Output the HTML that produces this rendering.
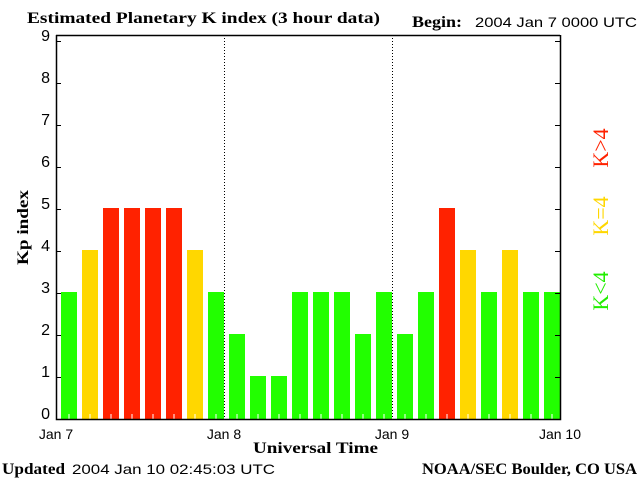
<!DOCTYPE html>
<html><head><meta charset="utf-8"><style>
body{margin:0;background:#fff}
svg{display:block}
text{font-family:"Liberation Sans",sans-serif;font-size:14px;fill:#000}
.s{font-family:"Liberation Serif",serif;font-weight:bold;font-size:16px}
</style></head><body>
<svg id="c" width="640" height="480">
<text class="s" x="27" y="23" textLength="353" lengthAdjust="spacingAndGlyphs">Estimated Planetary K index (3 hour data)</text>
<text class="s" x="412" y="27" textLength="50" lengthAdjust="spacingAndGlyphs">Begin:</text>
<text x="475" y="27" textLength="162" lengthAdjust="spacingAndGlyphs">2004 Jan 7 0000 UTC</text>
<text class="s" x="2" y="474" textLength="63" lengthAdjust="spacingAndGlyphs">Updated</text>
<text x="72" y="474" textLength="203" lengthAdjust="spacingAndGlyphs">2004 Jan 10 02:45:03 UTC</text>
<text class="s" x="422" y="474" textLength="215" lengthAdjust="spacingAndGlyphs">NOAA/SEC Boulder, CO USA</text>
<text class="s" x="253" y="453" textLength="125" lengthAdjust="spacingAndGlyphs">Universal Time</text>
<text class="s" transform="translate(28,265) rotate(-90)" textLength="75" lengthAdjust="spacingAndGlyphs">Kp index</text>
<g transform="translate(608,0) rotate(-90)">
<text x="-148" y="0" text-anchor="middle" style="fill:#ff2200;font-family:'Liberation Serif',serif;font-size:22px">K&gt;4</text>
<text x="-216" y="0" text-anchor="middle" style="fill:#ffd700;font-family:'Liberation Serif',serif;font-size:22px">K=4</text>
<text x="-291" y="0" text-anchor="middle" style="fill:#22ee00;font-family:'Liberation Serif',serif;font-size:22px">K&lt;4</text>
</g>
<g id="plot"></g>
</svg>
<script>
const kpValues=[3,4,5,5,5,5,4,3,2,1,1,3,3,3,2,3,2,3,5,4,3,4,3,3];
const yTicks=[0,1,2,3,4,5,6,7,8,9];
const dayLabels=["Jan 7","Jan 8","Jan 9","Jan 10"];
const NS="http://www.w3.org/2000/svg";
const L=56,R=560,T=35,B=419;
const xs=i=>L+i*(R-L)/kpValues.length;
const ys=v=>B-v*42;
const g=document.getElementById('plot');
function mk(t,a){const e=document.createElementNS(NS,t);for(const k in a)e.setAttribute(k,a[k]);g.appendChild(e);return e;}
kpValues.forEach((v,i)=>{
 const col=v>4?'#ff2200':v==4?'#ffd700':'#22ff00';
 const bw=(R-L)/kpValues.length;
 const r=mk('rect',{x:xs(i)+5,y:ys(v)-1,width:bw-5,height:B-ys(v)+1,fill:col});
 
 
 const t=mk('line',{x1:xs(i)+5+(bw-5)/2,x2:xs(i)+5+(bw-5)/2,y1:B-5,y2:B,stroke:'#fff'});
 
 
});
dayLabels.forEach((d,i)=>{
 const x=L+i*(R-L)/3;
 if(i>0&&i<3){const l=mk('line',{x1:x+.5,x2:x+.5,y1:T,y2:B,stroke:'#000','stroke-dasharray':'1,2'});
 
 }
 const t=mk('text',{x:x,y:439,'text-anchor':'middle'});t.textContent=d;
 
 
});
yTicks.forEach(v=>{
 const y=ys(v);
 const t=mk('text',{x:50,y:y,'text-anchor':'end',style:'font-size:16px'});t.textContent=v;
 
 
 const a=mk('line',{x1:L,x2:L+5,y1:y+.5,y2:y+.5,stroke:'#000'});
 
 
 const b=mk('line',{x1:R-5,x2:R,y1:y+.5,y2:y+.5,stroke:'#000'});
 
 
});
const ax=mk('path',{d:`M${L+.5},${T} V${B+.5} H${R+.5} V${T} M${L},${T+.5} H${R}`,stroke:'#000',fill:'none','stroke-width':1.5});


</script>
</body></html>
